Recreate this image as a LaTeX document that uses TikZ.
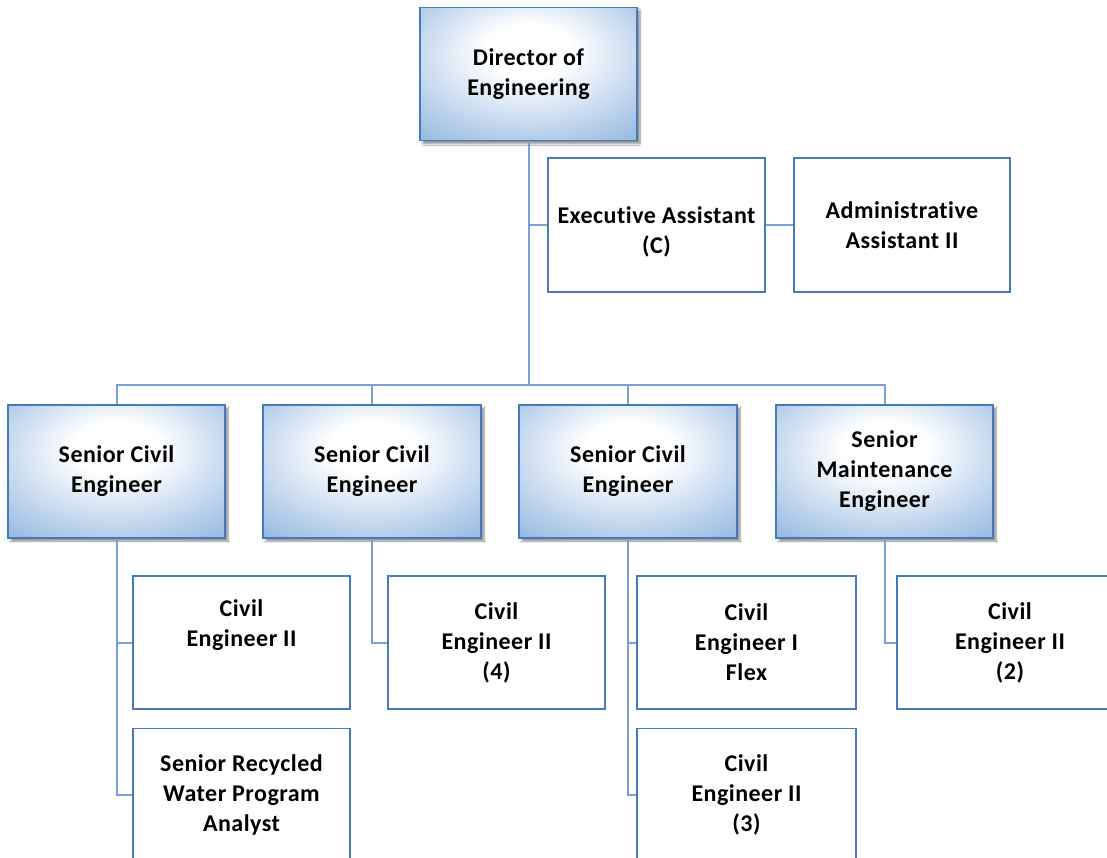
\documentclass[tikz,border=0pt]{standalone}
\usepackage{fontspec}
\setmainfont{Carlito}[LetterSpace=2, Ligatures=NoCommon]
\usetikzlibrary{shadows.blur}

\definecolor{edgeblue}{RGB}{70,122,184}
\definecolor{linkblue}{RGB}{120,162,214}
\definecolor{fillblue}{RGB}{86,143,207}

% soft radial fill: white core slightly above centre, blue towards the rim
\pgfdeclareradialshading{headshade}{\pgfpoint{0bp}{10bp}}{%
  color(0bp)=(white); color(10bp)=(white); color(56bp)=(fillblue); color(80bp)=(fillblue)}

\tikzset{
  txt/.style={font=\bfseries\fontsize{24}{30}\selectfont, align=center, text=black},
  headbox/.style={txt, draw=edgeblue, line width=1.6pt, shading=headshade,
    minimum width=217pt, minimum height=133pt, inner sep=0pt,
    blur shadow={shadow xshift=3pt, shadow yshift=-3pt, shadow blur steps=6, shadow opacity=45}},
  staffbox/.style={txt, draw=edgeblue, line width=1.4pt, fill=white,
    minimum width=217pt, minimum height=133pt, inner sep=0pt},
  conn/.style={draw=linkblue, line width=2pt}
}

\begin{document}
\begin{tikzpicture}[x=1pt, y=-1pt]
  \clip (0,0) rectangle (1107,857);
  \fill[white] (0,0) rectangle (1107,857);

  % top of the chart
  \node[headbox] (dir) at (528.5,74) {Director of\\Engineering};
  \node[staffbox, minimum height=134pt] (ea) at (656.5,225) {};
  \node[txt] (eatext) at (656.5,232) {Executive Assistant\\(C)};
  \node[staffbox, minimum height=134pt, minimum width=216pt] (aa) at (902,225) {Administrative\\Assistant II};

  % senior engineers
  \node[headbox] (s1) at (116.5,471.5) {Senior Civil\\Engineer};
  \node[headbox, minimum width=218pt] (s2) at (372,471.5) {Senior Civil\\Engineer};
  \node[headbox, minimum width=218pt] (s3) at (628,471.5) {Senior Civil\\Engineer};
  \node[headbox] (s4) at (884.5,471.5) {Senior\\Maintenance\\Engineer};

  % staff under each senior engineer
  \node[staffbox] (c1) at (241.5,642.5) {Civil\\Engineer II\\\strut};
  \node[staffbox] (c2) at (241.5,795) {Senior Recycled\\Water Program\\Analyst};
  \node[staffbox] (c4) at (496.5,642.5) {Civil\\Engineer II\\(4)};
  \node[staffbox, minimum width=219pt] (c5) at (746.5,642.5) {Civil\\Engineer I\\Flex};
  \node[staffbox, minimum width=219pt] (c6) at (746.5,795) {Civil\\Engineer II\\(3)};
  \node[staffbox, minimum width=226pt] (c7) at (1010,642.5) {Civil\\Engineer II\\(2)};

  % connectors
  \coordinate (bus) at (0,385);
  \draw[conn] (dir.south) -- (dir.south |- bus);
  \draw[conn] (dir.south) |- (ea.west);
  \draw[conn] (ea.east) -- (aa.west);
  \draw[conn] (s1.north) |- (s4.north |- bus) -- (s4.north);
  \draw[conn] (s2.north) -- (s2.north |- bus);
  \draw[conn] (s3.north) -- (s3.north |- bus);
  \draw[conn] (s1.south) |- (c1.west);
  \draw[conn] (s1.south) |- (c2.west);
  \draw[conn] (s2.south) |- (c4.west);
  \draw[conn] (s3.south) |- (c5.west);
  \draw[conn] (s3.south) |- (c6.west);
  \draw[conn] (s4.south) |- (c7.west);
\end{tikzpicture}
\end{document}
